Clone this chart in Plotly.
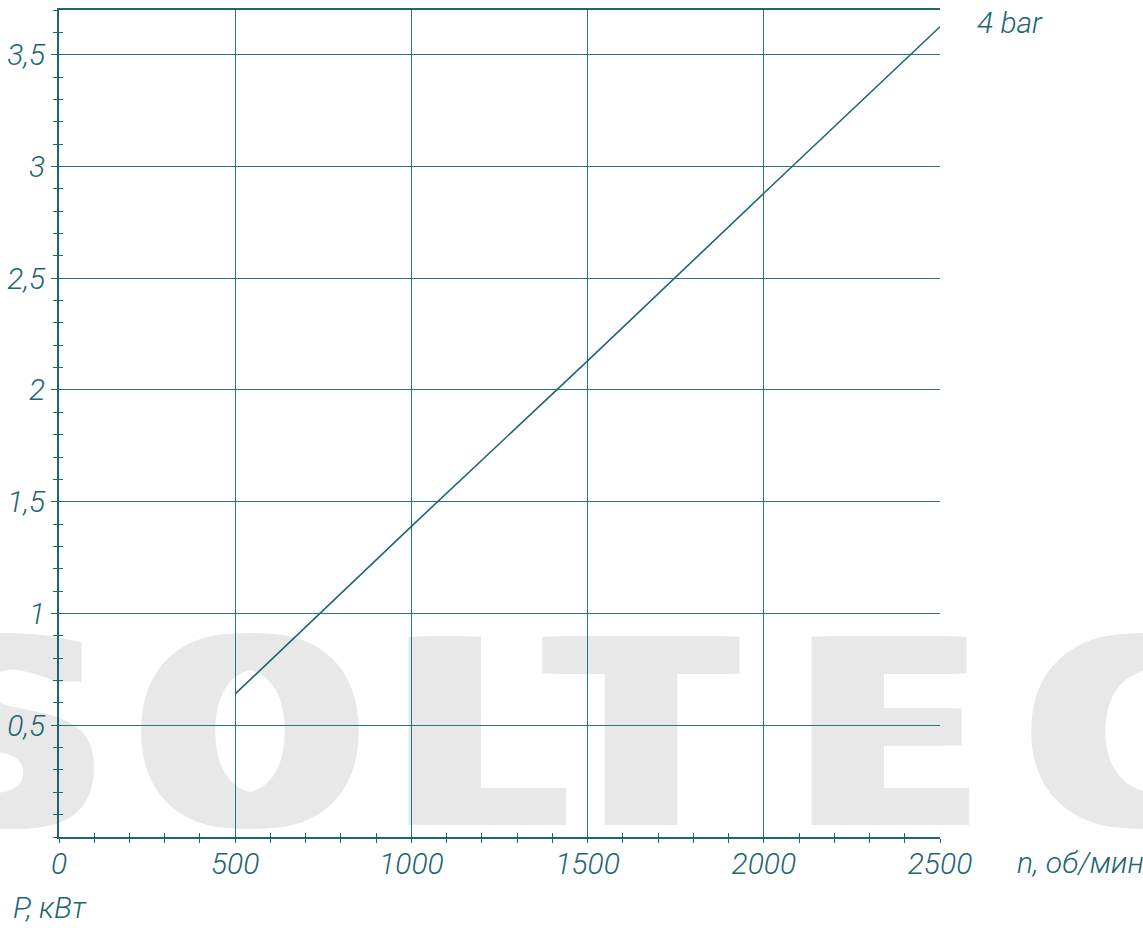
import plotly.graph_objects as go

# ---- data ----
rpm = [500, 1000, 1500, 2000, 2500]
power_4bar = [0.64, 1.39, 2.13, 2.88, 3.625]
x_ticks = [0, 500, 1000, 1500, 2000, 2500]
x_tick_text = ["0", "500", "1000", "1500", "2000", "2500"]
y_ticks = [0.5, 1, 1.5, 2, 2.5, 3, 3.5]
y_tick_text = ["0,5", "1", "1,5", "2", "2,5", "3", "3,5"]
series_name = "4 bar"
watermark_letters = ["S", "O", "L", "T", "E", "C"]
watermark_centers = [-0.0579, 0.2168, 0.4767, 0.6606, 0.9410, 1.2100]

TEAL = "#1d6672"
GRID = "#2a7480"
FONT = "Roboto"
label_font = dict(family=FONT, size=30, color=TEAL, style="italic", weight=300)
WM = "#e8e8e8"
wm_shadow = ", ".join(f"{WM} {dx}px 0px 0px" for dx in [-12, -8, -4, 4, 8, 12])

fig = go.Figure()
fig.add_trace(go.Scatter(x=rpm, y=power_4bar, mode="lines",
                         line=dict(color=TEAL, width=1.6), name=series_name,
                         showlegend=False, hoverinfo="skip"))
# empty trace for the overlay axes (inside half of crossing ticks)
fig.add_trace(go.Scatter(x=[], y=[], xaxis="x2", yaxis="y2", showlegend=False))

shapes = []
for letter, cx in zip(watermark_letters, watermark_centers):
    shapes.append(dict(
        type="rect", xref="paper", yref="paper",
        x0=cx - 0.12, x1=cx + 0.12, y0=0.0285, y1=0.2619,
        line=dict(width=0), fillcolor="rgba(0,0,0,0)", layer="below",
        label=dict(text=letter, textposition="middle center",
                   font=dict(family="DejaVu Sans", size=258, color=WM, weight=700,
                             shadow=wm_shadow)),
    ))

fig.update_layout(
    width=1143, height=928,
    margin=dict(l=59, r=203, t=10, b=91),
    paper_bgcolor="white", plot_bgcolor="rgba(0,0,0,0)",
    shapes=shapes,
    xaxis=dict(range=[0, 2500], tickvals=x_ticks, ticktext=x_tick_text, automargin=False,
               showgrid=True, gridcolor=GRID, gridwidth=1, zeroline=False,
               showline=True, linecolor=TEAL, linewidth=1.5, mirror=True,
               ticks="outside", ticklen=4, tickcolor=TEAL, tickwidth=1.3,
               minor=dict(dtick=100, ticks="outside", ticklen=4, tickcolor=TEAL, tickwidth=1.3, showgrid=False),
               tickfont=label_font, ticklabelstandoff=-5),
    yaxis=dict(range=[0, 3.7], tickvals=y_ticks, ticktext=y_tick_text, automargin=False,
               showgrid=True, gridcolor=GRID, gridwidth=1, zeroline=False,
               showline=True, linecolor=TEAL, linewidth=1.5,
               ticks="outside", ticklen=6, tickcolor=TEAL, tickwidth=1.3,
               minor=dict(dtick=0.1, ticks="outside", ticklen=4, tickcolor=TEAL, tickwidth=1.3, showgrid=False),
               tickfont=label_font, ticklabelstandoff=0),
    xaxis2=dict(overlaying="x", matches="x", range=[0, 2500], dtick=100, ticks="inside",
                ticklen=4, tickcolor=TEAL, tickwidth=1.3, showticklabels=False, automargin=False,
                showgrid=False, zeroline=False, showline=False, anchor="y2"),
    yaxis2=dict(overlaying="y", matches="y", range=[0, 3.7], dtick=0.1, ticks="inside",
                ticklen=4, tickcolor=TEAL, tickwidth=1.3, showticklabels=False, automargin=False,
                showgrid=False, zeroline=False, showline=False, anchor="x2"),
    annotations=[
        dict(text=series_name, xref="paper", yref="paper", x=(975 - 59) / 881, y=(837 - 22) / 827,
             xanchor="left", yanchor="middle", showarrow=False, font=label_font),
        dict(text="n, об/мин", xref="paper", yref="paper", x=(1015 - 59) / 881, y=(837 - 862) / 827,
             xanchor="left", yanchor="middle", showarrow=False, font=label_font),
        dict(text="P, кВт", xref="paper", yref="paper", x=(12 - 59) / 881, y=(837 - 908) / 827,
             xanchor="left", yanchor="middle", showarrow=False, font=label_font, borderpad=0),
    ],
)

fig.write_html("out.html", config={"displayModeBar": False},
               post_script="document.body.style.margin='0px';document.body.style.overflow='hidden';")
